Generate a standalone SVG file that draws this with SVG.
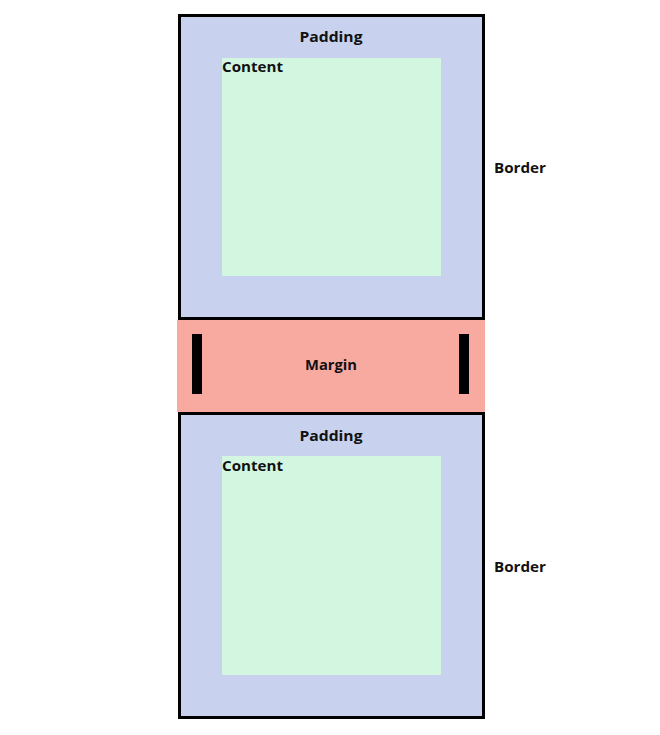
<svg xmlns="http://www.w3.org/2000/svg" width="660" height="735" viewBox="0 0 660 735">
<style>
.box{fill:#c8d2ee;stroke:#000;stroke-width:3}
.content{fill:#d3f6e0}
.t{font-family:"Open Sans","Liberation Sans",sans-serif;font-weight:bold;font-size:15px;fill:#111}
.bar{fill:#000}
</style>
<rect width="660" height="735" fill="#fff"/>
<g id="margin">
<rect x="177" y="320" width="308" height="92" fill="#f9aaa0"/>
<rect class="bar" x="192" y="334" width="10" height="60"/>
<rect class="bar" x="459" y="334" width="10" height="60"/>
<text class="t" x="331" y="370" text-anchor="middle" textLength="52" lengthAdjust="spacingAndGlyphs">Margin</text>
</g>
<g id="box1">
<rect class="box" x="179.5" y="15.5" width="304" height="303"/>
<rect class="content" x="222" y="58" width="219" height="218"/>
<text class="t" x="331" y="42" text-anchor="middle" textLength="63" lengthAdjust="spacingAndGlyphs">Padding</text>
<text class="t" x="222" y="72" textLength="61" lengthAdjust="spacingAndGlyphs">Content</text>
<text class="t" x="494" y="173" textLength="52" lengthAdjust="spacingAndGlyphs">Border</text>
</g>
<g id="box2">
<rect class="box" x="179.5" y="413.5" width="304" height="304"/>
<rect class="content" x="222" y="456" width="219" height="219"/>
<text class="t" x="331" y="441" text-anchor="middle" textLength="63" lengthAdjust="spacingAndGlyphs">Padding</text>
<text class="t" x="222" y="471" textLength="61" lengthAdjust="spacingAndGlyphs">Content</text>
<text class="t" x="494" y="572" textLength="52" lengthAdjust="spacingAndGlyphs">Border</text>
</g>
<g id="connectors"></g>
</svg>
